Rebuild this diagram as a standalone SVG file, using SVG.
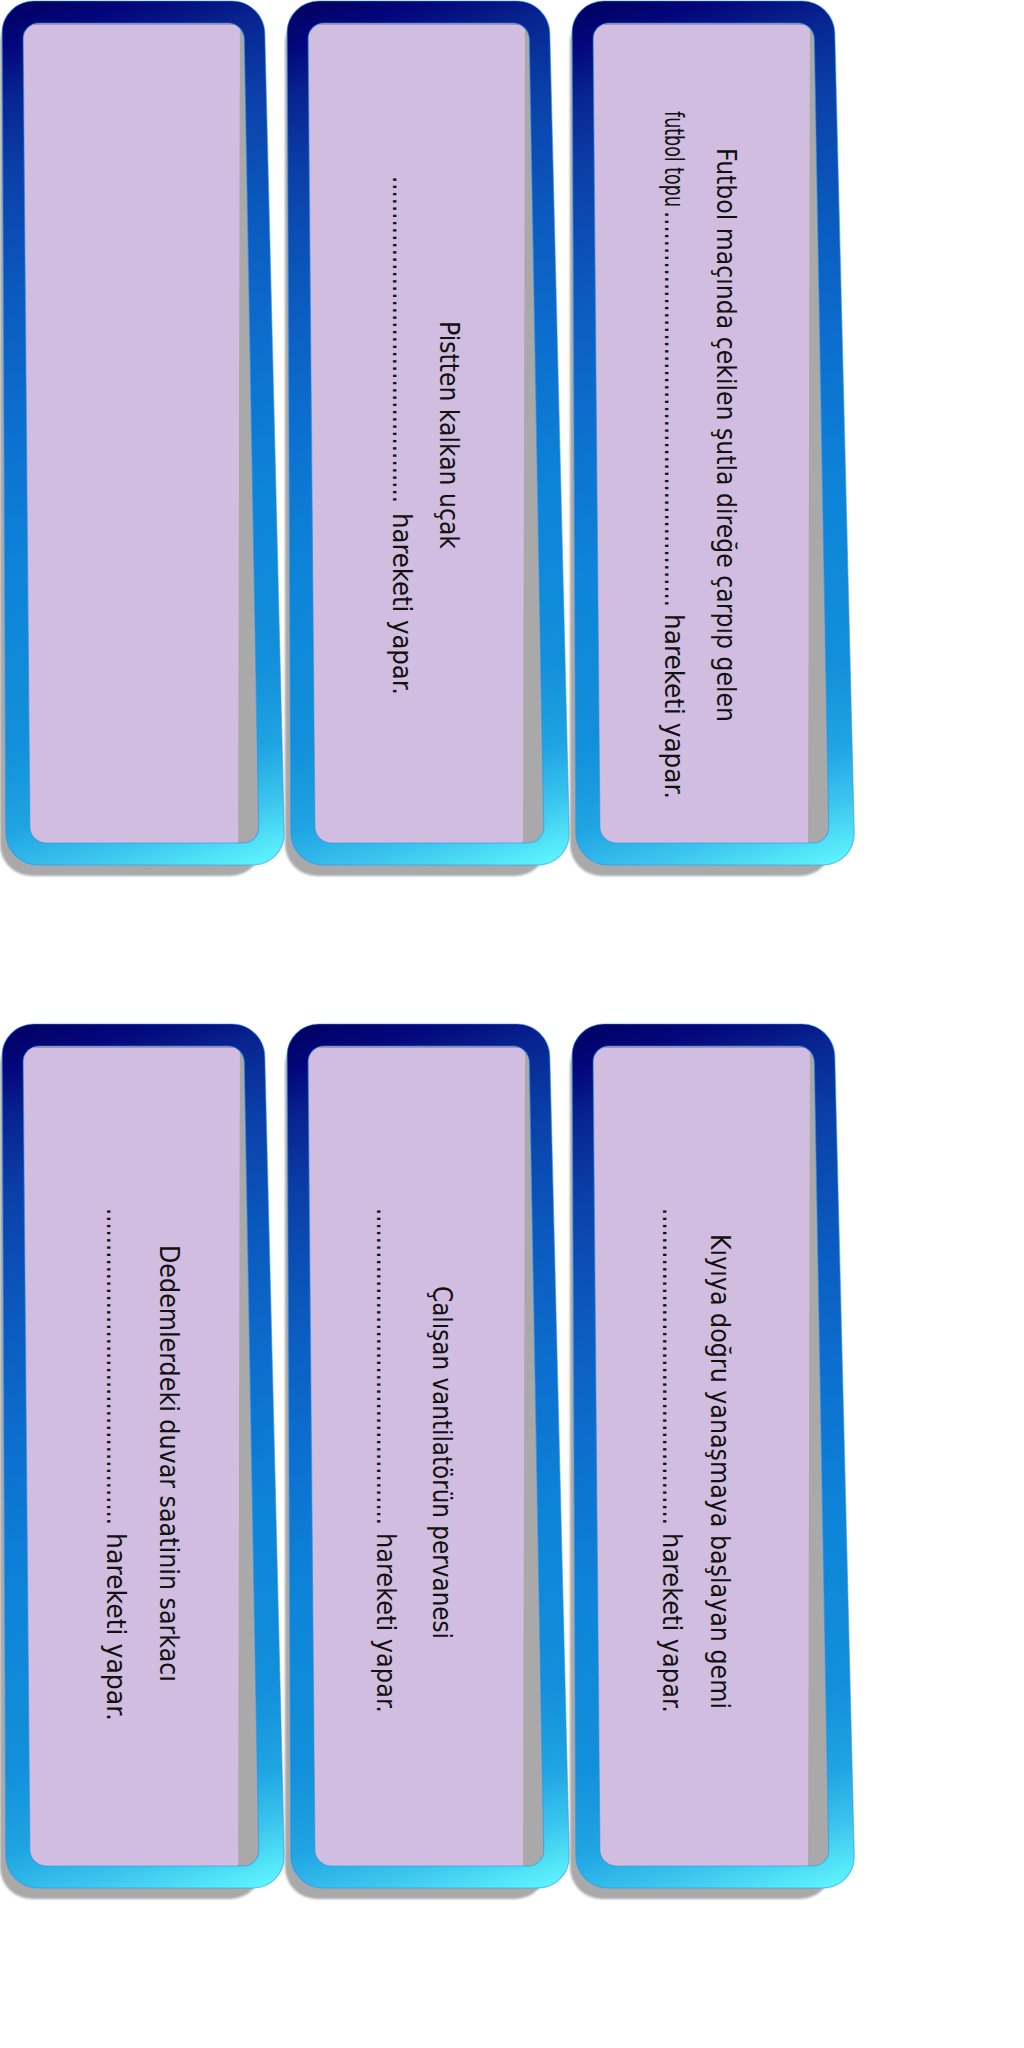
<svg xmlns="http://www.w3.org/2000/svg" width="1024" height="2048" viewBox="0 0 1024 2048">
<defs>
<style>
.t{font-family:"Liberation Sans Narrow","DejaVu Sans Condensed","Liberation Sans",Arial,sans-serif;font-size:26px;fill:#111111;}
</style>
<linearGradient id="fg" gradientUnits="userSpaceOnUse" x1="0" y1="0" x2="283" y2="864">
<stop offset="0" stop-color="#00005e"/>
<stop offset="0.05" stop-color="#03067c"/>
<stop offset="0.1" stop-color="#08238f"/>
<stop offset="0.18" stop-color="#0a3fa8"/>
<stop offset="0.3" stop-color="#0b58bd"/>
<stop offset="0.45" stop-color="#0c6fcf"/>
<stop offset="0.6" stop-color="#0d84d8"/>
<stop offset="0.78" stop-color="#128fda"/>
<stop offset="0.87" stop-color="#1fa4e2"/>
<stop offset="0.93" stop-color="#3cc6ee"/>
<stop offset="1" stop-color="#63fbff"/>
</linearGradient>
<filter id="soft" x="-10%" y="-10%" width="120%" height="120%"><feGaussianBlur stdDeviation="1.2"/></filter>
<clipPath id="holeClip"><path d="M 37,22 L 226,22 C 234.8,22 242.1,29.2 242.3,38 L 256.7,826 C 256.9,834.8 249.8,842 241,842 L 44,842 C 35.2,842 28,834.8 27.86,826 L 21.14,38 C 21,29.2 28.2,22 37,22 Z"/></clipPath>
<g id="card">
<rect x="-2" y="10" width="262" height="865" rx="32" fill="#a9a9a9" filter="url(#soft)"/>
<path d="M 37,22 L 226,22 C 234.8,22 242.1,29.2 242.3,38 L 256.7,826 C 256.9,834.8 249.8,842 241,842 L 44,842 C 35.2,842 28,834.8 27.86,826 L 21.14,38 C 21,29.2 28.2,22 37,22 Z" fill="#a9a9a9"/>
<polygon points="0,0 238,0 236,870 0,870" fill="#d1bddf" clip-path="url(#holeClip)"/>
<path d="M 32,23 L 234,23" stroke="#3c3454" stroke-width="1.2" stroke-opacity="0.6"/>
<path d="M 32,0 L 230,0 C 247.7,0 262.4,14.3 262.8,32 L 282.2,832 C 282.6,849.7 268.7,864 251,864 L 36,864 C 18.3,864 4.2,849.7 3.85,832 L 0.15,32 C -0.2,14.3 14.3,0 32,0 Z M 37,22 L 226,22 C 234.8,22 242.1,29.2 242.3,38 L 256.7,826 C 256.9,834.8 249.8,842 241,842 L 44,842 C 35.2,842 28,834.8 27.86,826 L 21.14,38 C 21,29.2 28.2,22 37,22 Z" fill="url(#fg)" fill-rule="evenodd" stroke="#2a90f0" stroke-opacity="0.55" stroke-width="1.2"/>
</g>
</defs>

<g id="card-top-left" transform="translate(2,1)">
<use href="#card"/>
</g>

<g id="card-top-middle" transform="translate(287,1)">
<use href="#card"/>
<text class="t" transform="translate(153,0) rotate(90)" x="320" textLength="228" lengthAdjust="spacingAndGlyphs">Pistten kalkan uçak</text>
<text class="t" transform="translate(106,0) rotate(90)"><tspan x="175" textLength="327" lengthAdjust="spacingAndGlyphs">.............................................</tspan><tspan x="512" textLength="182" lengthAdjust="spacingAndGlyphs">hareketi yapar.</tspan></text>
</g>

<g id="card-top-right" transform="translate(572,1)">
<use href="#card"/>
<text class="t" transform="translate(145,0) rotate(90)" x="147" textLength="574" lengthAdjust="spacingAndGlyphs">Futbol maçında çekilen şutla direğe çarpıp gelen</text>
<text class="t" transform="translate(93,0) rotate(90)"><tspan x="110" textLength="96" lengthAdjust="spacingAndGlyphs">futbol topu</tspan><tspan x="210" textLength="396" lengthAdjust="spacingAndGlyphs">.......................................................</tspan><tspan x="613" textLength="185" lengthAdjust="spacingAndGlyphs">hareketi yapar.</tspan></text>
</g>

<g id="card-bottom-left" transform="translate(2,1024)">
<use href="#card"/>
<text class="t" transform="translate(158,0) rotate(90)" x="221" textLength="437" lengthAdjust="spacingAndGlyphs">Dedemlerdeki duvar saatinin sarkacı</text>
<text class="t" transform="translate(105,0) rotate(90)"><tspan x="184" textLength="317" lengthAdjust="spacingAndGlyphs">............................................</tspan><tspan x="509" textLength="188" lengthAdjust="spacingAndGlyphs">hareketi yapar.</tspan></text>
</g>

<g id="card-bottom-middle" transform="translate(287,1024)">
<use href="#card"/>
<text class="t" transform="translate(146,0) rotate(90)" x="262" textLength="353" lengthAdjust="spacingAndGlyphs">Çalışan vantilatörün pervanesi</text>
<text class="t" transform="translate(90,0) rotate(90)"><tspan x="184" textLength="317" lengthAdjust="spacingAndGlyphs">............................................</tspan><tspan x="509" textLength="180" lengthAdjust="spacingAndGlyphs">hareketi yapar.</tspan></text>
</g>

<g id="card-bottom-right" transform="translate(572,1024)">
<use href="#card"/>
<text class="t" transform="translate(139,0) rotate(90)" x="210" textLength="475" lengthAdjust="spacingAndGlyphs">Kıyıya doğru yanaşmaya başlayan gemi</text>
<text class="t" transform="translate(91,0) rotate(90)"><tspan x="184" textLength="317" lengthAdjust="spacingAndGlyphs">............................................</tspan><tspan x="509" textLength="180" lengthAdjust="spacingAndGlyphs">hareketi yapar.</tspan></text>
</g>
</svg>
